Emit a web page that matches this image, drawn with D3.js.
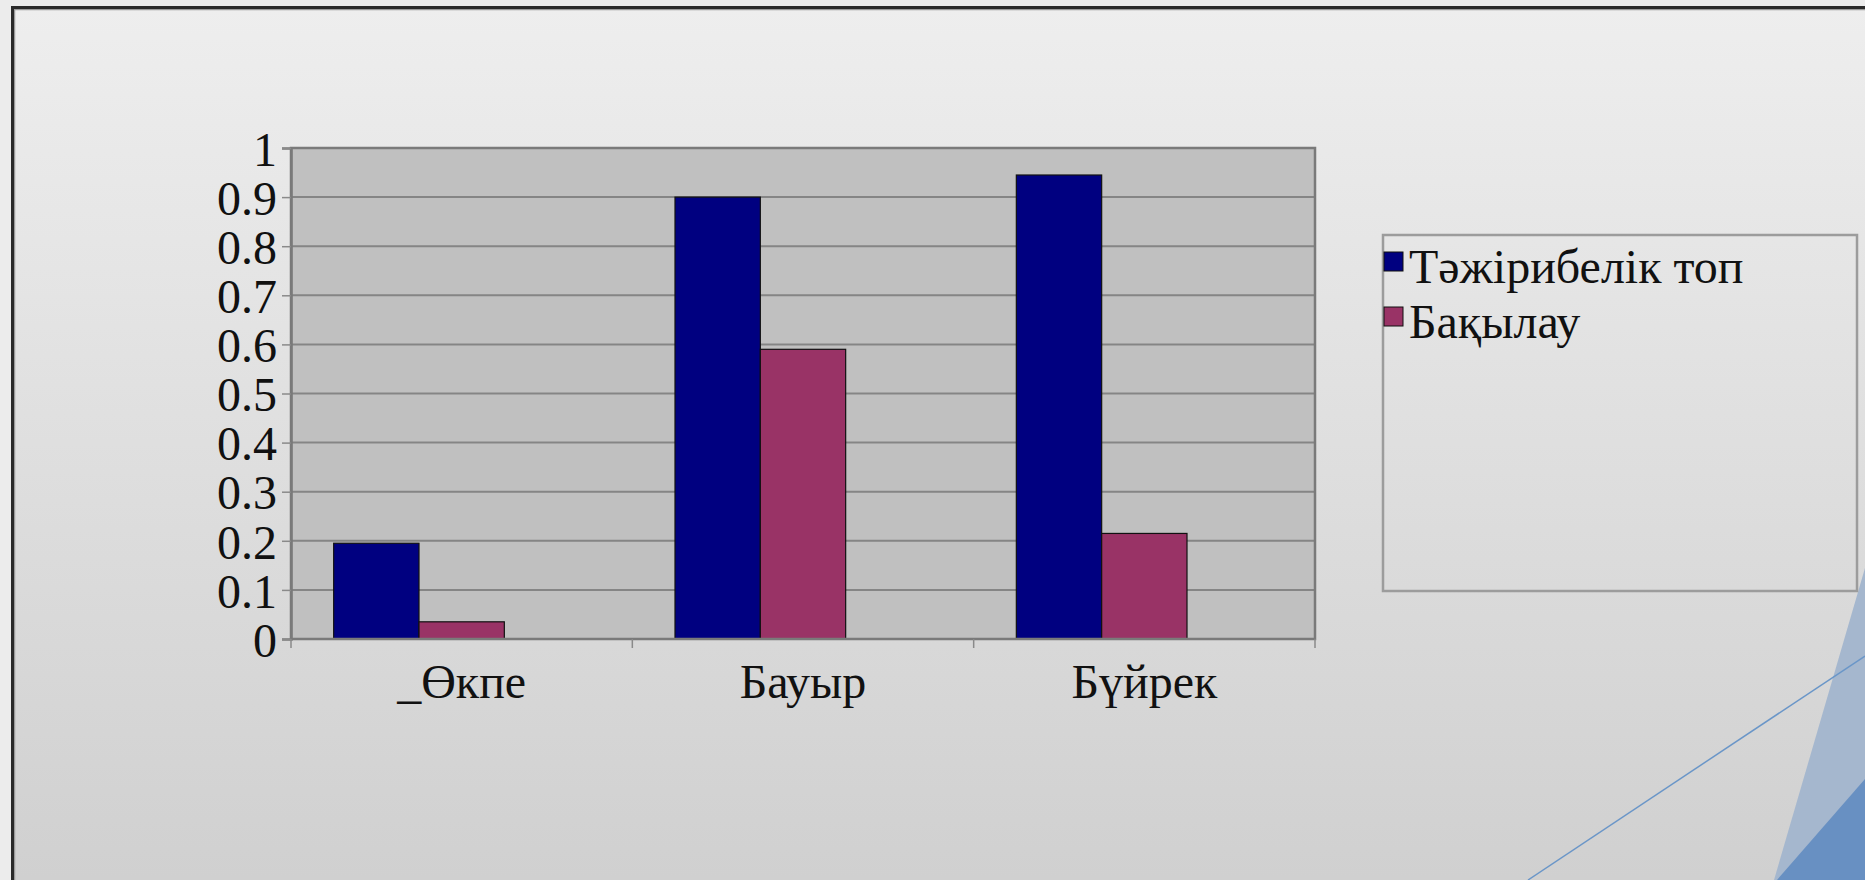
<!DOCTYPE html>
<html>
<head>
<meta charset="utf-8">
<script src="https://cdn.jsdelivr.net/npm/d3@7/dist/d3.min.js"></script>
<style>
  html, body { margin: 0; padding: 0; background: #ececec; overflow: hidden; }
  svg { display: block; }
  text { font-family: "Liberation Serif", "Times New Roman", Tinos, "DejaVu Serif", serif; fill: #111; }
</style>
</head>
<body>
<svg id="chart" width="1865" height="880"></svg>
<script>
// ---- data ----
const categories = ["_Өкпе", "Бауыр", "Бүйрек"];
const seriesNames = ["Тәжірибелік топ", "Бақылау"];
const experimental = [0.195, 0.90, 0.945];
const control = [0.035, 0.59, 0.215];
const yTicks = [0, 0.1, 0.2, 0.3, 0.4, 0.5, 0.6, 0.7, 0.8, 0.9, 1];
const seriesColors = ["#000080", "#993366"];

const seriesValues = [experimental, control];
const FONT = '"Liberation Serif", "Times New Roman", Tinos, "DejaVu Serif", serif';
const FS = 48;

const svg = d3.select("#chart");
const W = 1865, H = 880;

// ---- background ----
const defs = svg.append("defs");
const grad = defs.append("linearGradient").attr("id", "bg").attr("x1", 0).attr("y1", 0).attr("x2", 0).attr("y2", 1);
grad.append("stop").attr("offset", "0%").attr("stop-color", "#eeeeee");
grad.append("stop").attr("offset", "100%").attr("stop-color", "#cfcfcf");
svg.append("rect").attr("width", W).attr("height", H).attr("fill", "#ececec");
svg.append("rect").attr("x", 12).attr("y", 7).attr("width", W + 20).attr("height", H + 20).attr("fill", "url(#bg)");
// slide frame
svg.append("rect").attr("x", 14.5).attr("y", 9.5).attr("width", W + 20).attr("height", H + 20)
  .attr("fill", "none").attr("stroke", "#9a9a9a").attr("stroke-width", 1.5);
svg.append("rect").attr("x", 12.5).attr("y", 7.5).attr("width", W + 20).attr("height", H + 20)
  .attr("fill", "none").attr("stroke", "#2a2a2a").attr("stroke-width", 3);

// decorative shapes bottom-right
svg.append("polygon").attr("points", "1865,568 1865,880 1774,880").attr("fill", "#a5b7ce");
svg.append("polygon").attr("points", "1777,880 1865,779 1865,880").attr("fill", "#6890c2");
svg.append("line").attr("x1", 1528).attr("y1", 880).attr("x2", 1865).attr("y2", 656)
  .attr("stroke", "#6a96c8").attr("stroke-width", 1.5);

// ---- plot ----
const plot = { left: 291, right: 1315, top: 148, bottom: 639 };

const x0 = d3.scaleBand().domain(categories).range([plot.left, plot.right]).padding(0);
const x1 = d3.scaleBand().domain([0, 1, 2]).range([0, x0.bandwidth()]).paddingInner(0).paddingOuter(0.5);
const y = d3.scaleLinear().domain([0, 1]).range([plot.bottom, plot.top]);

// plot area fill
svg.append("rect").attr("x", plot.left).attr("y", plot.top)
  .attr("width", plot.right - plot.left).attr("height", plot.bottom - plot.top)
  .attr("fill", "#c0c0c0");

// gridlines
svg.append("g").selectAll("line").data(yTicks.filter(d => d > 0 && d < 1)).join("line")
  .attr("x1", plot.left).attr("x2", plot.right)
  .attr("y1", d => y(d)).attr("y2", d => y(d))
  .attr("stroke", "#858585").attr("stroke-width", 2);

// bars
const groups = svg.append("g").selectAll("g").data(categories).join("g")
  .attr("transform", c => `translate(${x0(c)},0)`);
groups.selectAll("rect").data((c, ci) => seriesValues.map((vals, si) => ({ si, v: vals[ci] }))).join("rect")
  .attr("x", d => x1(d.si))
  .attr("width", x1.bandwidth())
  .attr("y", d => y(d.v))
  .attr("height", d => y(0) - y(d.v))
  .attr("fill", d => seriesColors[d.si])
  .attr("stroke", "#111")
  .attr("stroke-width", 1.2);

// plot border
svg.append("rect").attr("x", plot.left).attr("y", plot.top)
  .attr("width", plot.right - plot.left).attr("height", plot.bottom - plot.top)
  .attr("fill", "none").attr("stroke", "#7a7a7a").attr("stroke-width", 2.5);

// y axis
const yAxis = d3.axisLeft(y).tickValues(yTicks).tickFormat(d3.format("~g")).tickSize(9).tickPadding(5);
const gy = svg.append("g").attr("transform", `translate(${plot.left},0)`).call(yAxis);
gy.attr("font-family", null).attr("font-size", null);
gy.select(".domain").attr("stroke", "#7a7a7a").attr("stroke-width", 2.5);
gy.selectAll(".tick line").attr("stroke", "#8a8a8a").attr("stroke-width", 1.5);
gy.selectAll(".tick text").style("font-family", FONT).style("font-size", FS + "px").attr("fill", "#111").attr("dy", "0.36em");

// x axis
const xAxis = d3.axisBottom(x0).tickSize(0).tickPadding(0);
const gx = svg.append("g").attr("transform", `translate(0,${plot.bottom})`).call(xAxis);
gx.attr("font-family", null).attr("font-size", null);
gx.select(".domain").remove();
gx.selectAll(".tick text").style("font-family", FONT).style("font-size", FS + "px").attr("fill", "#111")
  .attr("dy", 0).attr("y", 59);
// category boundary ticks
const boundaries = categories.map(c => x0(c)).concat([x0(categories[categories.length - 1]) + x0.bandwidth()]);
svg.append("g").selectAll("line").data(boundaries).join("line")
  .attr("x1", d => d).attr("x2", d => d)
  .attr("y1", plot.bottom).attr("y2", plot.bottom + 9)
  .attr("stroke", "#8a8a8a").attr("stroke-width", 1.5);

// ---- legend ----
const legend = { x: 1383, y: 235, w: 474, h: 356 };
svg.append("rect").attr("x", legend.x).attr("y", legend.y).attr("width", legend.w).attr("height", legend.h)
  .attr("fill", "none").attr("stroke", "#9c9c9c").attr("stroke-width", 2.5);
const li = svg.append("g").selectAll("g").data(seriesNames).join("g")
  .attr("transform", (d, i) => `translate(${legend.x},${legend.y + 17 + i * 55})`);
li.append("rect").attr("x", 1).attr("y", 0).attr("width", 19).attr("height", 19)
  .attr("fill", (d, i) => seriesColors[i]).attr("stroke", "#111").attr("stroke-width", 1);
li.append("text").attr("x", 26).attr("y", 31).style("font-family", FONT).style("font-size", FS + "px").text(d => d);
</script>
</body>
</html>
